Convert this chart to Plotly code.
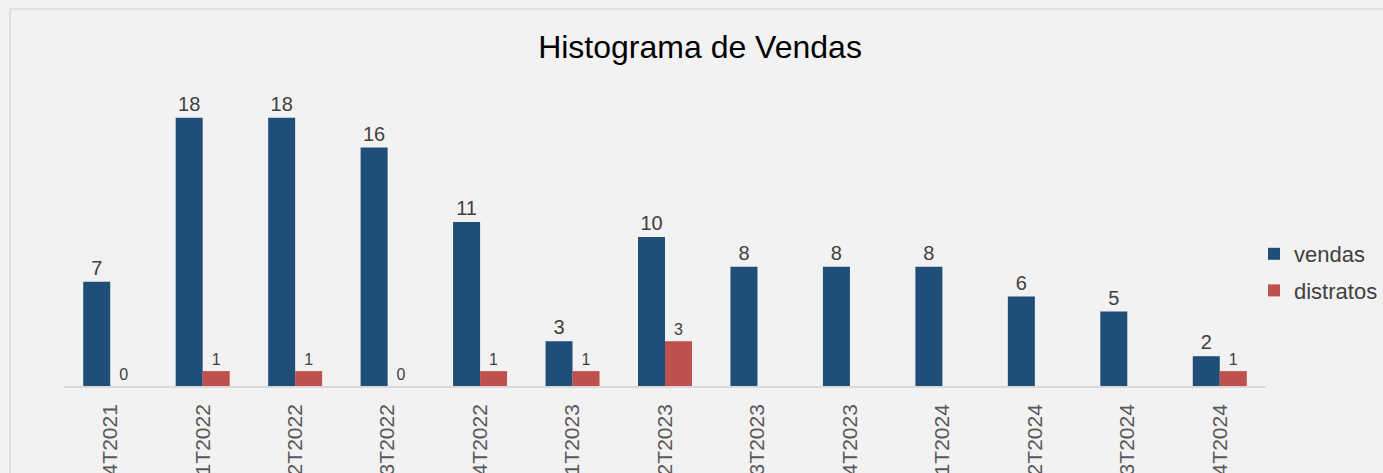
import plotly.graph_objects as go

categorias = ["4T2021", "1T2022", "2T2022", "3T2022", "4T2022", "1T2023", "2T2023",
              "3T2023", "4T2023", "1T2024", "2T2024", "3T2024", "4T2024"]
vendas = [7, 18, 18, 16, 11, 3, 10, 8, 8, 8, 6, 5, 2]
distratos = [0, 1, 1, 0, 1, 1, 3, None, None, None, None, None, 1]

FONT = "Liberation Sans, Arial, sans-serif"
TXT = "#404040"
W, H = 1383, 473

fig = go.Figure()
fig.add_trace(go.Bar(
    x=categorias, y=vendas, name="vendas", marker=dict(color="#1F4E79", line=dict(width=0)),
    text=[str(v) for v in vendas], textposition="outside", cliponaxis=False,
    textfont=dict(family=FONT, size=20, color=TXT), legendgroup="a"))
fig.add_trace(go.Bar(
    x=categorias, y=distratos, name="distratos", marker=dict(color="#C0504D", line=dict(width=0)),
    text=["" if v is None else str(v) for v in distratos], textposition="outside", cliponaxis=False,
    textfont=dict(family=FONT, size=16, color=TXT), legendgroup="b"))

fig.update_layout(
    width=W, height=H,
    paper_bgcolor="#F2F2F2", plot_bgcolor="rgba(0,0,0,0)",
    margin=dict(l=64, r=117, t=88, b=87, autoexpand=False),
    barmode="group", bargap=0.416, bargroupgap=0,
    title=dict(text="Histograma de Vendas", xref="container", x=700/W, xanchor="center",
               yref="container", y=1-47/H, yanchor="middle",
               font=dict(family=FONT, size=32, color="#000000")),
    font=dict(family=FONT, color=TXT),
    showlegend=True,
    legend=dict(xref="container", x=1254/W, xanchor="left",
                yref="container", y=1-233/H, yanchor="top",
                font=dict(family=FONT, size=22, color=TXT), tracegroupgap=5,
                bgcolor="rgba(0,0,0,0)", itemwidth=30),
    xaxis=dict(showgrid=False, showline=True, linecolor="#D9D9D9", linewidth=1.5,
               tickangle=-90, tickfont=dict(family=FONT, size=21, color="#595959"),
               ticks="", ticklabelstandoff=8, automargin=False, fixedrange=True),
    yaxis=dict(range=[0, 20], visible=False, showgrid=False, zeroline=False,
               automargin=False, fixedrange=True),
    shapes=[dict(type="rect", xref="paper", yref="paper",
                 x0=(10-64)/1202, x1=1.2, y0=-0.5, y1=1 + (88-9)/298,
                 line=dict(color="#DADADA", width=1.5), fillcolor="rgba(0,0,0,0)", layer="below")],
)

fig.write_html("out.html", config={"displayModeBar": False},
               post_script="document.body.style.margin='0px';document.body.style.background='#F2F2F2';")
